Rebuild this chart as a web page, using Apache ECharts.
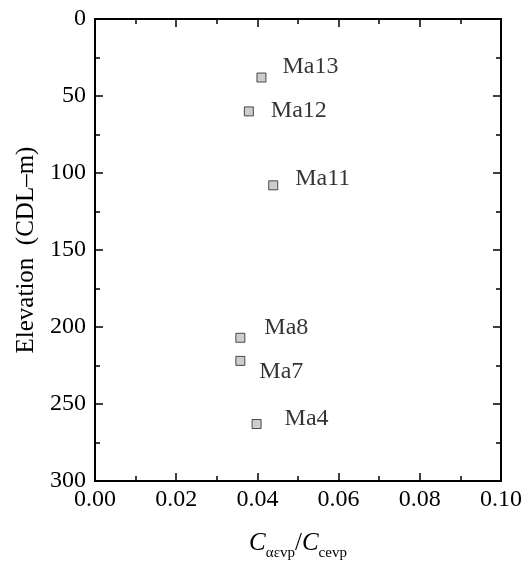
<!DOCTYPE html>
<html>
<head>
<meta charset="utf-8">
<script src="https://cdn.jsdelivr.net/npm/echarts@6/dist/echarts.min.js"></script>
<style>html,body{margin:0;padding:0;background:#fff;}#c{width:524px;height:563px;}</style>
</head>
<body>
<div id="c"></div>
<script>
var names = ['Ma13', 'Ma12', 'Ma11', 'Ma8', 'Ma7', 'Ma4'];
var ratio = [0.0410, 0.0379, 0.0439, 0.0358, 0.0358, 0.0398];
var elevation = [38, 60, 108, 207, 222, 263];
var xTicks = [0.00, 0.02, 0.04, 0.06, 0.08, 0.10];
var yTicks = [0, 50, 100, 150, 200, 250, 300];

// label offsets (style only)
var labelOffsets = [[16, -11], [17, -1], [17, -7], [19, -10], [14, 11], [23, -5]];

var FONT = 'Liberation Serif';
var data = names.map(function (n, i) {
  return {
    value: [ratio[i], elevation[i]],
    name: n,
    label: { offset: labelOffsets[i] }
  };
});

function baseX(pos, show) {
  return {
    type: 'value', position: pos, min: xTicks[0], max: xTicks[xTicks.length - 1], interval: 0.02,
    axisLine: { show: true, onZero: false, lineStyle: { color: '#000', width: 2 } },
    axisTick: { show: true, inside: true, length: 8, lineStyle: { color: '#000', width: 1.5 } },
    minorTick: { show: true, splitNumber: 2, length: 5, lineStyle: { color: '#000', width: 1.5 } },
    splitLine: { show: false },
    axisLabel: { show: show, fontFamily: FONT, fontSize: 24, color: '#000', margin: 7,
      formatter: function (v) { return v.toFixed(2); } }
  };
}
function baseY(pos, show) {
  return {
    type: 'value', position: pos, inverse: true, min: yTicks[0], max: yTicks[yTicks.length - 1], interval: 50,
    axisLine: { show: true, onZero: false, lineStyle: { color: '#000', width: 2 } },
    axisTick: { show: true, inside: true, length: 8, lineStyle: { color: '#000', width: 1.5 } },
    minorTick: { show: true, splitNumber: 2, length: 5, lineStyle: { color: '#000', width: 1.5 } },
    splitLine: { show: false },
    axisLabel: { show: show, fontFamily: FONT, fontSize: 24, color: '#000', margin: 9 }
  };
}

var xb = baseX('bottom', true);
xb.name = '{c|C}{s|αεvp}{n|/}{c|C}{s|cevp}';
xb.nameLocation = 'middle';
xb.nameGap = 50;
xb.nameTextStyle = {
  fontFamily: FONT, color: '#000',
  rich: {
    c: { fontFamily: FONT, fontStyle: 'italic', fontSize: 25, lineHeight: 25, verticalAlign: 'top', color: '#000' },
    n: { fontFamily: FONT, fontSize: 25, lineHeight: 25, verticalAlign: 'top', color: '#000' },
    s: { fontFamily: FONT, fontSize: 15, lineHeight: 15, verticalAlign: 'top', padding: [15, 0, 0, 0], color: '#000' }
  }
};
var xt = baseX('top', false);

var yl = baseY('left', true);
yl.name = 'Elevation  (CDL\u2013m)';
yl.nameLocation = 'middle';
yl.nameRotate = 90;
yl.nameGap = 53;
yl.nameTextStyle = { fontFamily: FONT, fontSize: 25, color: '#000' };
var yr = baseY('right', false);

var chart = echarts.init(document.getElementById('c'), null, { renderer: 'canvas' });
chart.setOption({
  animation: false,
  backgroundColor: '#fff',
  grid: { left: 95, right: 23, top: 19, bottom: 82, containLabel: false, outerBoundsMode: 'none' },
  xAxis: [xb, xt],
  yAxis: [yl, yr],
  series: [{
    type: 'scatter',
    xAxisIndex: 0, yAxisIndex: 0,
    symbol: 'rect',
    symbolSize: 9,
    itemStyle: { color: '#c0c0c0', borderColor: '#222', borderWidth: 1 },
    label: {
      show: true, position: 'right', distance: 0,
      formatter: function (p) { return p.name; },
      fontFamily: FONT, fontSize: 24, color: '#000'
    },
    data: data
  }]
});
</script>
</body>
</html>
